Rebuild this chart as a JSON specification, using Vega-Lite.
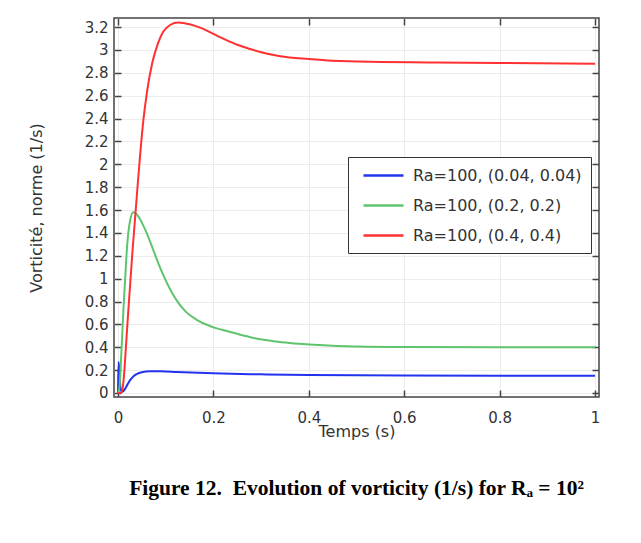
{
  "$schema": "https://vega.github.io/schema/vega-lite/v6.json",
  "autosize": "none",
  "width": 485,
  "height": 379,
  "padding": {"left": 114, "top": 18, "right": 42, "bottom": 146},
  "background": "white",
  "title": {
    "text": "Figure 12.\u00a0 Evolution of vorticity (1/s) for Rₐ = 10²",
    "orient": "bottom",
    "anchor": "middle",
    "font": "Liberation Serif",
    "fontSize": 21.5,
    "fontWeight": "bold",
    "color": "#000000",
    "offset": 39
  },
  "config": {
    "view": {"stroke": "#444444", "strokeWidth": 1.5},
    "axis": {
      "labelFont": "DejaVu Sans",
      "titleFont": "DejaVu Sans",
      "labelFontSize": 15,
      "titleFontSize": 16,
      "titleFontWeight": "normal",
      "labelColor": "#333333",
      "titleColor": "#333333",
      "domain": false,
      "tickColor": "#444444",
      "tickWidth": 1.5,
      "tickSize": -7,
      "gridColor": "#ececec",
      "gridWidth": 1,
      "format": "~g"
    },
    "legend": {
      "orient": "none",
      "legendX": 234,
      "legendY": 139,
      "strokeColor": "#333333",
      "fillColor": "#ffffff",
      "padding": 9,
      "labelFont": "DejaVu Sans",
      "labelFontSize": 16,
      "labelColor": "#333333",
      "labelOffset": 37,
      "labelLimit": 400,
      "symbolType": "M-0.375,0H4.625",
      "symbolSize": 256,
      "symbolStrokeWidth": 2.5,
      "rowPadding": 12,
      "title": null
    }
  },
  "data": {
    "values": [
      {"t": 0, "v": 0, "s": "Ra=100, (0.04, 0.04)"},
      {"t": 0.001, "v": 0.27, "s": "Ra=100, (0.04, 0.04)"},
      {"t": 0.003, "v": 0.2, "s": "Ra=100, (0.04, 0.04)"},
      {"t": 0.005, "v": 0.05, "s": "Ra=100, (0.04, 0.04)"},
      {"t": 0.008, "v": 0.01, "s": "Ra=100, (0.04, 0.04)"},
      {"t": 0.012, "v": 0.02, "s": "Ra=100, (0.04, 0.04)"},
      {"t": 0.018, "v": 0.06, "s": "Ra=100, (0.04, 0.04)"},
      {"t": 0.025, "v": 0.11, "s": "Ra=100, (0.04, 0.04)"},
      {"t": 0.032, "v": 0.145, "s": "Ra=100, (0.04, 0.04)"},
      {"t": 0.04, "v": 0.168, "s": "Ra=100, (0.04, 0.04)"},
      {"t": 0.05, "v": 0.182, "s": "Ra=100, (0.04, 0.04)"},
      {"t": 0.067, "v": 0.19, "s": "Ra=100, (0.04, 0.04)"},
      {"t": 0.09, "v": 0.19, "s": "Ra=100, (0.04, 0.04)"},
      {"t": 0.123, "v": 0.184, "s": "Ra=100, (0.04, 0.04)"},
      {"t": 0.2, "v": 0.172, "s": "Ra=100, (0.04, 0.04)"},
      {"t": 0.3, "v": 0.163, "s": "Ra=100, (0.04, 0.04)"},
      {"t": 0.4, "v": 0.157, "s": "Ra=100, (0.04, 0.04)"},
      {"t": 0.6, "v": 0.153, "s": "Ra=100, (0.04, 0.04)"},
      {"t": 0.8, "v": 0.151, "s": "Ra=100, (0.04, 0.04)"},
      {"t": 1, "v": 0.15, "s": "Ra=100, (0.04, 0.04)"},
      {"t": 0, "v": 0, "s": "Ra=100, (0.2, 0.2)"},
      {"t": 0.003, "v": 0.05, "s": "Ra=100, (0.2, 0.2)"},
      {"t": 0.007, "v": 0.35, "s": "Ra=100, (0.2, 0.2)"},
      {"t": 0.011, "v": 0.7, "s": "Ra=100, (0.2, 0.2)"},
      {"t": 0.015, "v": 1.0, "s": "Ra=100, (0.2, 0.2)"},
      {"t": 0.019, "v": 1.28, "s": "Ra=100, (0.2, 0.2)"},
      {"t": 0.025, "v": 1.5, "s": "Ra=100, (0.2, 0.2)"},
      {"t": 0.032, "v": 1.58, "s": "Ra=100, (0.2, 0.2)"},
      {"t": 0.04, "v": 1.56, "s": "Ra=100, (0.2, 0.2)"},
      {"t": 0.05, "v": 1.49, "s": "Ra=100, (0.2, 0.2)"},
      {"t": 0.06, "v": 1.4, "s": "Ra=100, (0.2, 0.2)"},
      {"t": 0.074, "v": 1.25, "s": "Ra=100, (0.2, 0.2)"},
      {"t": 0.085, "v": 1.13, "s": "Ra=100, (0.2, 0.2)"},
      {"t": 0.095, "v": 1.03, "s": "Ra=100, (0.2, 0.2)"},
      {"t": 0.11, "v": 0.9, "s": "Ra=100, (0.2, 0.2)"},
      {"t": 0.123, "v": 0.81, "s": "Ra=100, (0.2, 0.2)"},
      {"t": 0.14, "v": 0.72, "s": "Ra=100, (0.2, 0.2)"},
      {"t": 0.165, "v": 0.64, "s": "Ra=100, (0.2, 0.2)"},
      {"t": 0.19, "v": 0.59, "s": "Ra=100, (0.2, 0.2)"},
      {"t": 0.207, "v": 0.565, "s": "Ra=100, (0.2, 0.2)"},
      {"t": 0.23, "v": 0.54, "s": "Ra=100, (0.2, 0.2)"},
      {"t": 0.256, "v": 0.51, "s": "Ra=100, (0.2, 0.2)"},
      {"t": 0.28, "v": 0.485, "s": "Ra=100, (0.2, 0.2)"},
      {"t": 0.305, "v": 0.465, "s": "Ra=100, (0.2, 0.2)"},
      {"t": 0.33, "v": 0.45, "s": "Ra=100, (0.2, 0.2)"},
      {"t": 0.36, "v": 0.437, "s": "Ra=100, (0.2, 0.2)"},
      {"t": 0.41, "v": 0.422, "s": "Ra=100, (0.2, 0.2)"},
      {"t": 0.45, "v": 0.413, "s": "Ra=100, (0.2, 0.2)"},
      {"t": 0.5, "v": 0.407, "s": "Ra=100, (0.2, 0.2)"},
      {"t": 0.6, "v": 0.402, "s": "Ra=100, (0.2, 0.2)"},
      {"t": 0.8, "v": 0.4, "s": "Ra=100, (0.2, 0.2)"},
      {"t": 1, "v": 0.4, "s": "Ra=100, (0.2, 0.2)"},
      {"t": 0, "v": 0, "s": "Ra=100, (0.4, 0.4)"},
      {"t": 0.006, "v": 0, "s": "Ra=100, (0.4, 0.4)"},
      {"t": 0.01, "v": 0.05, "s": "Ra=100, (0.4, 0.4)"},
      {"t": 0.02, "v": 0.62, "s": "Ra=100, (0.4, 0.4)"},
      {"t": 0.03, "v": 1.22, "s": "Ra=100, (0.4, 0.4)"},
      {"t": 0.042, "v": 1.86, "s": "Ra=100, (0.4, 0.4)"},
      {"t": 0.053, "v": 2.38, "s": "Ra=100, (0.4, 0.4)"},
      {"t": 0.061, "v": 2.64, "s": "Ra=100, (0.4, 0.4)"},
      {"t": 0.072, "v": 2.89, "s": "Ra=100, (0.4, 0.4)"},
      {"t": 0.084, "v": 3.06, "s": "Ra=100, (0.4, 0.4)"},
      {"t": 0.095, "v": 3.16, "s": "Ra=100, (0.4, 0.4)"},
      {"t": 0.11, "v": 3.22, "s": "Ra=100, (0.4, 0.4)"},
      {"t": 0.126, "v": 3.24, "s": "Ra=100, (0.4, 0.4)"},
      {"t": 0.15, "v": 3.225, "s": "Ra=100, (0.4, 0.4)"},
      {"t": 0.175, "v": 3.19, "s": "Ra=100, (0.4, 0.4)"},
      {"t": 0.2, "v": 3.14, "s": "Ra=100, (0.4, 0.4)"},
      {"t": 0.225, "v": 3.09, "s": "Ra=100, (0.4, 0.4)"},
      {"t": 0.25, "v": 3.045, "s": "Ra=100, (0.4, 0.4)"},
      {"t": 0.275, "v": 3.01, "s": "Ra=100, (0.4, 0.4)"},
      {"t": 0.3, "v": 2.98, "s": "Ra=100, (0.4, 0.4)"},
      {"t": 0.34, "v": 2.945, "s": "Ra=100, (0.4, 0.4)"},
      {"t": 0.4, "v": 2.92, "s": "Ra=100, (0.4, 0.4)"},
      {"t": 0.45, "v": 2.905, "s": "Ra=100, (0.4, 0.4)"},
      {"t": 0.55, "v": 2.895, "s": "Ra=100, (0.4, 0.4)"},
      {"t": 0.65, "v": 2.89, "s": "Ra=100, (0.4, 0.4)"},
      {"t": 0.8, "v": 2.885, "s": "Ra=100, (0.4, 0.4)"},
      {"t": 1, "v": 2.88, "s": "Ra=100, (0.4, 0.4)"}
    ]
  },
  "layer": [
    {
      "mark": {"type": "line", "strokeWidth": 2, "interpolate": "monotone"},
      "encoding": {
        "x": {
          "field": "t", "type": "quantitative",
          "scale": {"domain": [-0.0084, 1.0084], "nice": false, "zero": false},
          "axis": {"orient": "bottom", "title": "Temps (s)", "values": [0, 0.2, 0.4, 0.6, 0.8, 1], "labelPadding": 20, "titlePadding": -2, "grid": true, "labelFlush": false}
        },
        "y": {
          "field": "v", "type": "quantitative",
          "scale": {"domain": [-0.035, 3.279], "nice": false, "zero": false},
          "axis": {"orient": "left", "title": "Vorticité, norme (1/s)", "values": [0, 0.2, 0.4, 0.6, 0.8, 1, 1.2, 1.4, 1.6, 1.8, 2, 2.2, 2.4, 2.6, 2.8, 3, 3.2], "labelPadding": 13, "titlePadding": 40, "grid": true, "labelFlush": false}
        },
        "color": {
          "field": "s", "type": "nominal",
          "scale": {"domain": ["Ra=100, (0.04, 0.04)", "Ra=100, (0.2, 0.2)", "Ra=100, (0.4, 0.4)"], "range": ["#2233ee", "#5ec46e", "#ff3030"]},
          "legend": {}
        }
      }
    },
    {
      "mark": {"type": "line", "strokeOpacity": 0},
      "encoding": {
        "x": {
          "field": "t", "type": "quantitative",
          "axis": {"orient": "top", "title": null, "labels": false, "grid": false, "values": [0, 0.2, 0.4, 0.6, 0.8, 1]}
        },
        "y": {
          "field": "v", "type": "quantitative",
          "axis": {"orient": "right", "title": null, "labels": false, "grid": false, "values": [0, 0.2, 0.4, 0.6, 0.8, 1, 1.2, 1.4, 1.6, 1.8, 2, 2.2, 2.4, 2.6, 2.8, 3, 3.2]}
        },
        "detail": {"field": "s", "type": "nominal"}
      }
    }
  ],
  "resolve": {"axis": {"x": "independent", "y": "independent"}}
}
